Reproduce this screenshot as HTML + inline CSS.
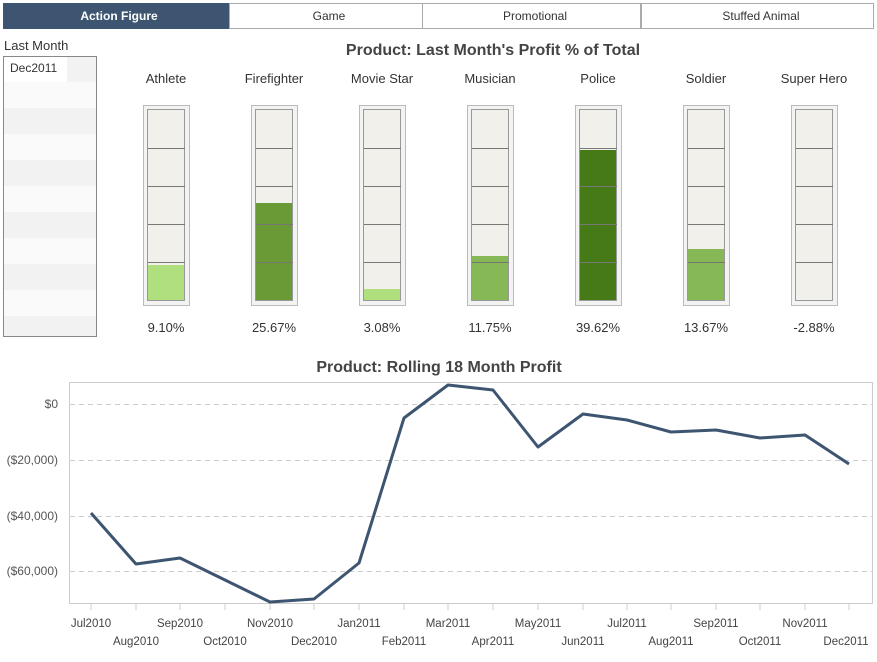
<!DOCTYPE html>
<html><head><meta charset="utf-8"><style>
body{margin:0;background:#fff;font-family:"Liberation Sans",sans-serif;}
svg text{font-family:"Liberation Sans",sans-serif;}
</style></head><body>
<svg width="877" height="657" xmlns="http://www.w3.org/2000/svg">
<rect x="3.5" y="3.5" width="225" height="25" fill="#3d5570" stroke="#3d5570"/>
<rect x="229.5" y="3.5" width="193" height="25" fill="#fff" stroke="#aaa"/>
<rect x="422.5" y="3.5" width="218" height="25" fill="#fff" stroke="#aaa"/>
<rect x="641.5" y="3.5" width="232" height="25" fill="#fff" stroke="#aaa"/>
<g font-size="12" text-anchor="middle" font-weight="bold">
<text x="119" y="20" fill="#fff">Action Figure</text>
<text x="329" y="20" fill="#333" font-weight="normal">Game</text>
<text x="535" y="20" fill="#333" font-weight="normal">Promotional</text>
<text x="761" y="20" fill="#333" font-weight="normal">Stuffed Animal</text>
</g>
<text x="4" y="50" font-size="13" fill="#333">Last Month</text>
<g fill="#f2f2f2">
<rect x="4" y="82" width="92" height="26" fill="#fafafa"/>
<rect x="4" y="108" width="92" height="26"/>
<rect x="4" y="134" width="92" height="26" fill="#fafafa"/>
<rect x="4" y="160" width="92" height="26"/>
<rect x="4" y="186" width="92" height="26" fill="#fafafa"/>
<rect x="4" y="212" width="92" height="26"/>
<rect x="4" y="238" width="92" height="26" fill="#fafafa"/>
<rect x="4" y="264" width="92" height="26"/>
<rect x="4" y="290" width="92" height="26" fill="#fafafa"/>
<rect x="4" y="316" width="92" height="20"/>
<rect x="67" y="57" width="29" height="25"/>
</g>
<rect x="3.5" y="56.5" width="93" height="280" fill="none" stroke="#888"/>
<text x="10" y="72" font-size="12" fill="#333">Dec2011</text>
<text x="493" y="55" font-size="16" font-weight="bold" fill="#444" text-anchor="middle">Product: Last Month's Profit % of Total</text>
<g font-size="13" fill="#333" text-anchor="middle">
<text x="166" y="83">Athlete</text><text x="274" y="83">Firefighter</text><text x="382" y="83">Movie Star</text><text x="490" y="83">Musician</text><text x="598" y="83">Police</text><text x="706" y="83">Soldier</text><text x="814" y="83">Super Hero</text>
<text x="166" y="332">9.10%</text><text x="274" y="332">25.67%</text><text x="382" y="332">3.08%</text><text x="490" y="332">11.75%</text><text x="598" y="332">39.62%</text><text x="706" y="332">13.67%</text><text x="814" y="332">-2.88%</text>
</g>
<defs><g id="g">
<rect x="-22.5" y="105.5" width="46" height="200" fill="#f3f3f3" stroke="#bbb"/>
<rect x="-18.5" y="109.5" width="37" height="191" fill="#f1f0ea" stroke="#999"/>
</g>
<g id="l" stroke="#777" stroke-width="1">
<line x1="-18" x2="19" y1="148.5" y2="148.5"/><line x1="-18" x2="19" y1="186.5" y2="186.5"/><line x1="-18" x2="19" y1="224.5" y2="224.5"/><line x1="-18" x2="19" y1="262.5" y2="262.5"/>
</g></defs>
<g transform="translate(166,0)"><use href="#g"/><rect x="-18" y="265" width="36" height="35" fill="#b0df7e"/><use href="#l"/></g>
<g transform="translate(274,0)"><use href="#g"/><rect x="-18" y="203" width="36" height="97" fill="#6a9a35"/><use href="#l"/></g>
<g transform="translate(382,0)"><use href="#g"/><rect x="-18" y="289" width="36" height="11" fill="#b0df7e"/><use href="#l"/></g>
<g transform="translate(490,0)"><use href="#g"/><rect x="-18" y="256" width="36" height="44" fill="#86b955"/><use href="#l"/></g>
<g transform="translate(598,0)"><use href="#g"/><rect x="-18" y="150" width="36" height="150" fill="#467a16"/><use href="#l"/></g>
<g transform="translate(706,0)"><use href="#g"/><rect x="-18" y="249" width="36" height="51" fill="#86b955"/><use href="#l"/></g>
<g transform="translate(814,0)"><use href="#g"/><use href="#l"/></g>
<text x="439" y="372" font-size="16" font-weight="bold" fill="#444" text-anchor="middle">Product: Rolling 18 Month Profit</text>
<rect x="69.5" y="382.5" width="803" height="221" fill="none" stroke="#ccc"/>
<g stroke="#ccc" stroke-dasharray="5,4">
<line x1="70" x2="872" y1="404.5" y2="404.5"/><line x1="70" x2="872" y1="460.5" y2="460.5"/><line x1="70" x2="872" y1="516.5" y2="516.5"/><line x1="70" x2="872" y1="571.5" y2="571.5"/>
</g>
<g font-size="12" fill="#555" text-anchor="end">
<text x="58" y="408">$0</text><text x="58" y="464">($20,000)</text><text x="58" y="520">($40,000)</text><text x="58" y="575">($60,000)</text>
</g>
<g stroke="#ccc">
<line x1="91" x2="91" y1="604" y2="610"/><line x1="136" x2="136" y1="604" y2="610"/><line x1="180" x2="180" y1="604" y2="610"/><line x1="225" x2="225" y1="604" y2="610"/><line x1="270" x2="270" y1="604" y2="610"/><line x1="314" x2="314" y1="604" y2="610"/><line x1="359" x2="359" y1="604" y2="610"/><line x1="404" x2="404" y1="604" y2="610"/><line x1="448" x2="448" y1="604" y2="610"/><line x1="493" x2="493" y1="604" y2="610"/><line x1="538" x2="538" y1="604" y2="610"/><line x1="583" x2="583" y1="604" y2="610"/><line x1="627" x2="627" y1="604" y2="610"/><line x1="671" x2="671" y1="604" y2="610"/><line x1="716" x2="716" y1="604" y2="610"/><line x1="760" x2="760" y1="604" y2="610"/><line x1="805" x2="805" y1="604" y2="610"/><line x1="849" x2="849" y1="604" y2="610"/>
</g>
<g font-size="11.5" fill="#444" text-anchor="middle">
<text x="91" y="627">Jul2010</text><text x="136" y="645">Aug2010</text><text x="180" y="627">Sep2010</text><text x="225" y="645">Oct2010</text><text x="270" y="627">Nov2010</text><text x="314" y="645">Dec2010</text><text x="359" y="627">Jan2011</text><text x="404" y="645">Feb2011</text><text x="448" y="627">Mar2011</text><text x="493" y="645">Apr2011</text><text x="538" y="627">May2011</text><text x="583" y="645">Jun2011</text><text x="627" y="627">Jul2011</text><text x="671" y="645">Aug2011</text><text x="716" y="627">Sep2011</text><text x="760" y="645">Oct2011</text><text x="805" y="627">Nov2011</text><text x="846" y="645">Dec2011</text>
</g>
<polyline fill="none" stroke="#3d5570" stroke-width="3" stroke-linejoin="round" points="91,513 136,564 180,558 225,580 270,602 314,599 359,563 404,418 448,385 493,390 538,447 583,414 627,420 671,432 716,430 760,438 805,435 849,464"/>
</svg>
</body></html>
